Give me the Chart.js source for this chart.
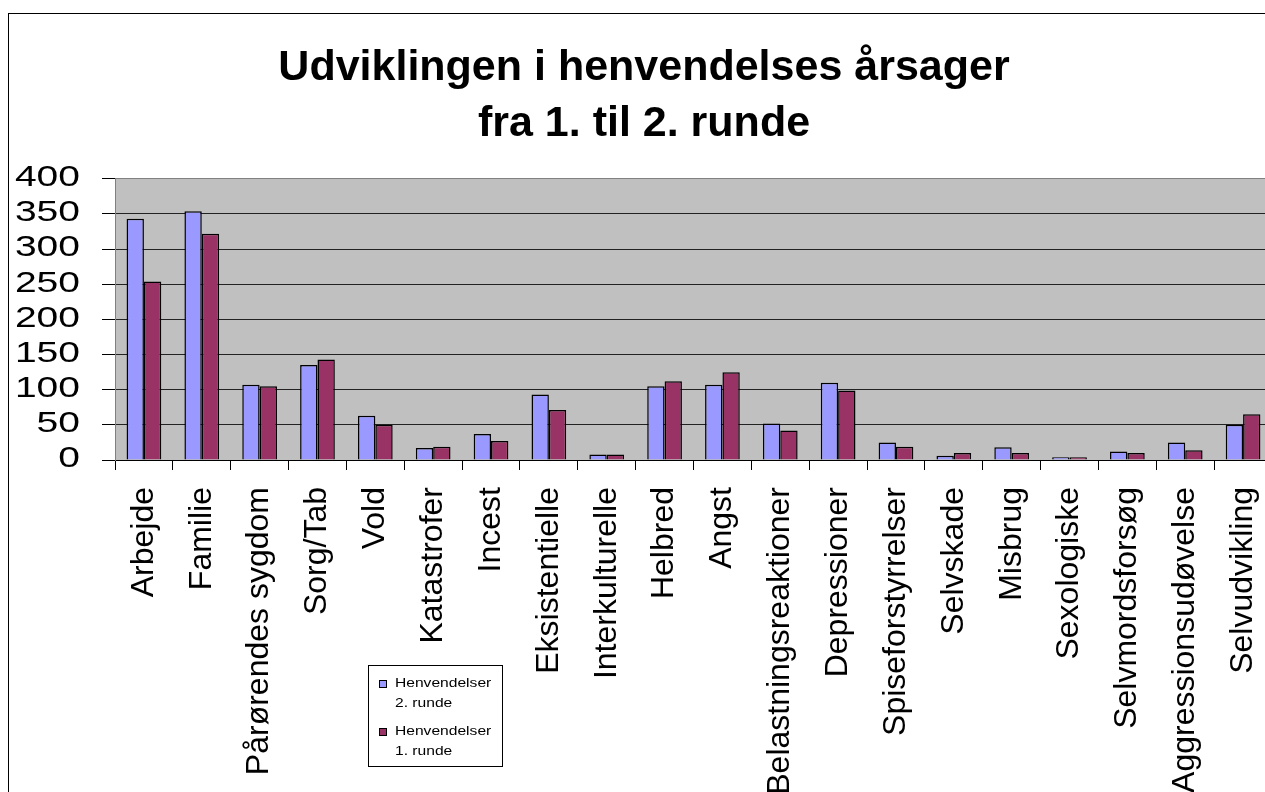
<!DOCTYPE html>
<html>
<head>
<meta charset="utf-8">
<script src="https://cdn.jsdelivr.net/npm/chart.js@4/dist/chart.umd.min.js"></script>
<style>
  html, body { margin: 0; padding: 0; background: #fff; overflow: hidden; }
  canvas { display: block; }
</style>
</head>
<body>
<canvas id="chart" width="1288" height="900"></canvas>
<script>
// data
const categories = ['Arbejde', 'Familie', 'Pårørendes sygdom', 'Sorg/Tab', 'Vold', 'Katastrofer', 'Incest',
  'Eksistentielle', 'Interkulturelle', 'Helbred', 'Angst', 'Belastningsreaktioner', 'Depressioner',
  'Spiseforstyrrelser', 'Selvskade', 'Misbrug', 'Sexologiske', 'Selvmordsforsøg', 'Aggressionsudøvelse', 'Selvudvikling'];
const runde2 = [343, 354, 107, 135, 63, 17, 37, 93, 8, 105, 107, 52, 110, 25, 6, 18, 4, 12, 25, 50];
const runde1 = [254, 322, 105, 143, 50, 19, 27, 71, 8, 112, 125, 42, 99, 19, 10, 10, 4, 10, 14, 65];
const yTicks = [0, 50, 100, 150, 200, 250, 300, 350, 400];
const legendLines = [['Henvendelser', '2. runde'], ['Henvendelser', '1. runde']];
const titleLines = ['Udviklingen i henvendelses årsager', 'fra 1. til 2. runde'];

const FONT = "Arial, 'Liberation Sans', sans-serif";

// baggrund, ramme, y-tal og forklaring
const excelLook = {
  id: 'excelLook',
  beforeDraw(chart) {
    const ctx = chart.ctx;
    const a = chart.chartArea;
    ctx.save();
    ctx.fillStyle = '#fff';
    ctx.fillRect(0, 0, chart.width, chart.height);
    ctx.strokeStyle = '#000';
    ctx.lineWidth = 1;
    ctx.strokeRect(8.5, 13.5, chart.width + 50, chart.height + 50);
    ctx.fillStyle = '#C0C0C0';
    ctx.fillRect(a.left, a.top, a.right - a.left, a.bottom - a.top);
    ctx.restore();
  },
  afterDraw(chart) {
    const ctx = chart.ctx;
    const y = chart.scales.y;
    ctx.save();
    // y-aksens tal (lidt strakt i bredden som i Excel)
    ctx.font = '30px ' + FONT;
    ctx.fillStyle = '#000';
    ctx.textAlign = 'right';
    ctx.textBaseline = 'middle';
    y.ticks.forEach(t => {
      ctx.save();
      ctx.translate(80, y.getPixelForValue(t.value) - 1);
      ctx.scale(1.3, 1);
      ctx.fillText(String(t.value), 0, 0);
      ctx.restore();
    });

    // forklaring
    const bx = 368, by = 665;
    ctx.fillStyle = '#fff';
    ctx.fillRect(bx, by, 134, 101);
    ctx.strokeStyle = '#000';
    ctx.lineWidth = 1;
    ctx.strokeRect(bx + 0.5, by + 0.5, 134, 101);
    ctx.font = '13px ' + FONT;
    ctx.textAlign = 'left';
    ctx.textBaseline = 'alphabetic';
    chart.data.datasets.forEach((ds, i) => {
      const top = by + 15 + i * 48;
      ctx.fillStyle = ds.backgroundColor;
      ctx.fillRect(379.5, top + 0.5, 7, 7);
      ctx.strokeRect(379.5, top + 0.5, 7, 7);
      ctx.fillStyle = '#000';
      legendLines[i].forEach((line, j) => {
        ctx.save();
        ctx.translate(395, top + 7 + j * 19.5);
        ctx.scale(1.2, 1);
        ctx.fillText(line, 0, 0);
        ctx.restore();
      });
    });
    ctx.restore();
  }
};

new Chart(document.getElementById('chart'), {
  type: 'bar',
  data: {
    labels: categories,
    datasets: [
      {
        label: legendLines[0].join(' '),
        data: runde2,
        backgroundColor: '#9999FF',
        borderColor: '#000',
        borderWidth: 1.5,
        categoryPercentage: 0.6,
        barPercentage: 1
      },
      {
        label: legendLines[1].join(' '),
        data: runde1,
        backgroundColor: '#993366',
        borderColor: '#000',
        borderWidth: 1.5,
        categoryPercentage: 0.6,
        barPercentage: 1
      }
    ]
  },
  options: {
    responsive: false,
    animation: false,
    layout: { padding: 0 },
    plugins: {
      legend: { display: false },
      tooltip: { enabled: false },
      title: {
        display: true,
        text: titleLines,
        color: '#000',
        font: { family: FONT, size: 43, weight: 'bold', lineHeight: 1.3 },
        padding: { top: 40, bottom: 27 }
      }
    },
    scales: {
      x: {
        afterFit(scale) {
          scale.height = 440;
          scale.paddingLeft = 0;
          scale.paddingRight = 16;
        },
        grid: {
          offset: true,
          drawOnChartArea: false,
          drawTicks: true,
          tickLength: 10,
          color: '#000'
        },
        border: { display: true, color: '#000', width: 1 },
        ticks: {
          autoSkip: false,
          maxRotation: 90,
          minRotation: 90,
          padding: 17,
          color: '#000',
          font: { family: FONT, size: 32 }
        }
      },
      y: {
        min: 0,
        max: 400,
        afterFit(scale) { scale.width = 115; },
        afterBuildTicks(scale) { scale.ticks = yTicks.map(v => ({ value: v })); },
        grid: {
          drawTicks: true,
          tickLength: 13,
          lineWidth: 1,
          color: ctx => (ctx.tick && ctx.tick.value === 400 ? '#808080' : '#222'),
          tickColor: '#000'
        },
        border: { display: true, color: '#808080', width: 1 },
        ticks: { display: false }
      }
    }
  },
  plugins: [excelLook]
});
</script>
</body>
</html>
